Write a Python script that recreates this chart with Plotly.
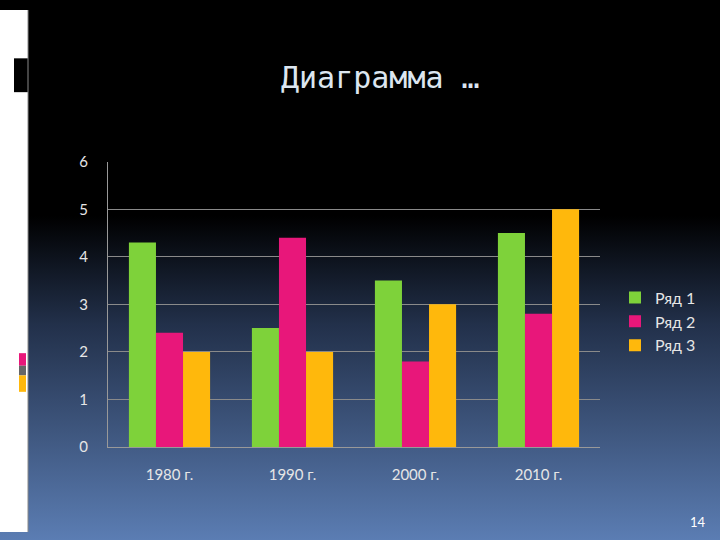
import plotly.graph_objects as go

categories = ["1980 г.", "1990 г.", "2000 г.", "2010 г."]
series_names = ["Ряд 1", "Ряд 2", "Ряд 3"]
row1 = [4.3, 2.5, 3.5, 4.5]
row2 = [2.4, 4.4, 1.8, 2.8]
row3 = [2, 2, 3, 5]
colors = ["#7ed23a", "#e8177a", "#ffb80c"]

fig = go.Figure()
for name, vals, c in zip(series_names, [row1, row2, row3], colors):
    fig.add_trace(go.Bar(x=categories, y=vals, name=name, marker_color=c,
                         marker_line_width=0))

shapes = [
    # white strip on the left
    dict(type="rect", xref="paper", yref="paper", x0=0, x1=28/720, y0=0, y1=1,
         fillcolor="white", line_width=0, layer="below"),
    dict(type="rect", xref="paper", yref="paper", x0=14/720, x1=30/720,
         y0=1-85/540, y1=1-50/540, fillcolor="black", line_width=0),
    dict(type="rect", xref="paper", yref="paper", x0=19/720, x1=26/720,
         y0=1-368/540, y1=1-355/540, fillcolor="#e8177a", line_width=0),
    dict(type="rect", xref="paper", yref="paper", x0=19/720, x1=26/720,
         y0=1-378/540, y1=1-368/540, fillcolor="#666", line_width=0),
    dict(type="rect", xref="paper", yref="paper", x0=19/720, x1=26/720,
         y0=1-395/540, y1=1-378/540, fillcolor="#ffb80c", line_width=0),
    dict(type="line", xref="paper", yref="paper", x0=28/720, x1=28/720,
         y0=0, y1=1, line=dict(color="#888", width=1)),
]

fig.update_layout(
    width=720, height=540,
    margin=dict(l=0, r=0, t=0, b=0),
    paper_bgcolor="rgba(0,0,0,0)", plot_bgcolor="rgba(0,0,0,0)",
    barmode="group", bargap=0.34, bargroupgap=0,
    font=dict(family="Lato", color="#e6e6e6", size=15),
    shapes=shapes,
    xaxis=dict(domain=[108/720, 600/720], showgrid=False, showline=True,
               linecolor="#999", ticks="", tickfont=dict(size=15),
               ticklabelstandoff=14),
    yaxis=dict(domain=[1-452/540, 1-157/540], range=[0, 6], dtick=1,
               gridcolor="#8a8a8a", showline=True, linecolor="#999",
               zeroline=False, ticklabelstandoff=16),
    legend=dict(x=615/720, y=1-280/540, xanchor="left", yanchor="top",
                font=dict(size=16), bgcolor="rgba(0,0,0,0)", tracegroupgap=8),
    annotations=[
        dict(text="Диаграмма …", x=380/720, y=1-70/540, xref="paper", yref="paper",
             yanchor="middle", showarrow=False,
             font=dict(family="DejaVu Sans Mono", size=30, color="#dce6f0")),
        dict(text="14", x=708/720, y=1-530/540, xref="paper", yref="paper",
             xanchor="right", yanchor="middle", showarrow=False,
             font=dict(size=13, color="white")),
    ],
)

fig.write_html("out.html", config={"displayModeBar": False}, post_script=(
    "document.body.style.margin='0';"
    "document.body.style.background='linear-gradient(#000 0%, #000 40%, #22304a 60%, #5b7db3 100%)';"
    "var an=document.querySelectorAll('.annotation');"
))
